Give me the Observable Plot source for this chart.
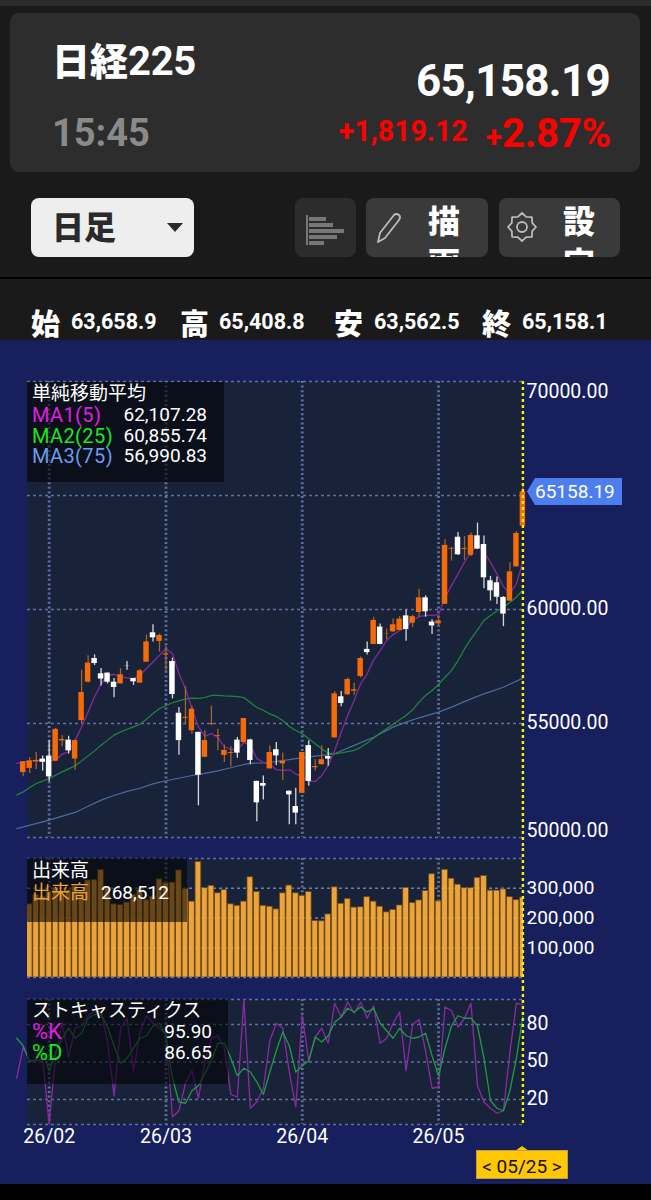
<!DOCTYPE html>
<html lang="ja">
<head>
<meta charset="utf-8">
<script src="https://cdn.jsdelivr.net/npm/d3@7"></script>
<script src="https://cdn.jsdelivr.net/npm/@observablehq/plot@0.6"></script>
<style>
html,body{margin:0;padding:0;background:#000;}
body{width:651px;height:1200px;overflow:hidden;position:relative;font-family:Roboto,"Noto Sans CJK JP",sans-serif;color:#fff;}
.a{position:absolute;white-space:nowrap;}
.cjk{font-family:"Noto Sans CJK JP",sans-serif;font-weight:900;}
.num{font-family:Roboto,sans-serif;font-weight:700;}
.chart{position:absolute;left:0;}
.chart svg{display:block;}
.box{position:absolute;background:rgba(0,0,0,.56);z-index:5;}
.t{position:absolute;white-space:nowrap;font-family:Roboto,"Noto Sans CJK JP",sans-serif;font-size:19px;line-height:20px;z-index:6;}
.btn{position:absolute;top:198px;height:59px;border-radius:8px;overflow:hidden;}
</style>
</head>
<body>
<div class="a" style="left:0;top:0;width:651px;height:340px;background:#1a1a1a"></div>
<div class="a" style="left:0;top:0;width:651px;height:6px;background:#2b2b2b"></div>
<div class="a" style="left:10px;top:13px;width:630px;height:159px;background:#2d2d2d;border-radius:9px"></div>
<div class="a cjk" style="left:52px;top:32px;font-size:38px;line-height:54px">日経<span class="num" style="font-size:40px;letter-spacing:-.3px">225</span></div>
<div class="a num" style="right:41px;top:54px;font-size:44px;line-height:54px;letter-spacing:-.7px">65,158.19</div>
<div class="a num" style="left:52px;top:110px;font-size:38px;line-height:46px;color:#8a8a8a">15:45</div>
<div class="a num" style="right:183px;top:113px;font-size:30px;line-height:36px;color:#f00;transform:scaleX(.95);transform-origin:right center">+1,819.12</div>
<div class="a num" style="right:40px;top:111px;font-size:40px;line-height:46px;color:#f00;letter-spacing:-.2px"><span style="font-size:30px">+</span>2.87%</div>

<div class="btn" style="left:31px;width:163px;background:#eee">
  <div class="a cjk" style="left:21px;top:4px;font-size:32px;line-height:46px;color:#2a2a2a;font-weight:900">日足</div>
  <div class="a" style="left:136px;top:25px;width:0;height:0;border-left:8px solid transparent;border-right:8px solid transparent;border-top:9px solid #2a2a2a"></div>
</div>
<div class="btn" style="left:295px;width:61px;background:#2c2c2c">
  <div class="a" style="left:11px;top:17px;width:2px;height:30px;background:#777"></div>
  <div class="a" style="left:14px;top:19px;width:17px;height:4px;background:#777"></div>
  <div class="a" style="left:14px;top:25px;width:24px;height:4px;background:#777"></div>
  <div class="a" style="left:14px;top:31px;width:35px;height:4px;background:#777"></div>
  <div class="a" style="left:14px;top:37px;width:28px;height:4px;background:#777"></div>
  <div class="a" style="left:14px;top:43px;width:15px;height:4px;background:#777"></div>
</div>
<div class="btn" style="left:366px;width:122px;background:#3a3a3a">
  <svg class="a" style="left:9px;top:13px" width="28" height="34" viewBox="0 0 28 34"><path d="M3 31L5 22L19 4Q21 2 24 4Q26 6 24 9L10 27Z" fill="none" stroke="#bbb" stroke-width="1.8" stroke-linejoin="round"/></svg>
  <div class="a cjk" style="left:62px;top:0;width:36px;font-size:32px;line-height:42px;white-space:normal;color:#fff;font-weight:900">描画</div>
</div>
<div class="btn" style="left:499px;width:121px;background:#3a3a3a">
  <svg class="a" style="left:8px;top:14px" width="30" height="30" viewBox="0 0 30 30"><polygon points="29,15 25.2,10.8 24.9,5.1 19.2,4.8 15,1 10.8,4.8 5.1,5.1 4.8,10.8 1,15 4.8,19.2 5.1,24.9 10.8,25.2 15,29 19.2,25.2 24.9,24.9 25.2,19.2" fill="none" stroke="#bbb" stroke-width="1.8" stroke-linejoin="round"/><circle cx="15" cy="15" r="5" fill="none" stroke="#bbb" stroke-width="1.8"/></svg>
  <div class="a cjk" style="left:64px;top:0;width:36px;font-size:32px;line-height:42px;white-space:normal;color:#fff;font-weight:900">設定</div>
</div>
<div class="a" style="left:0;top:277px;width:651px;height:2px;background:#000"></div>

<div class="a cjk" style="left:31px;top:301px;font-size:29px;line-height:42px">始</div>
<div class="a num" style="left:71px;top:309px;font-size:21.5px;line-height:26px">63,658.9</div>
<div class="a cjk" style="left:180px;top:301px;font-size:29px;line-height:42px">高</div>
<div class="a num" style="left:219px;top:309px;font-size:21.5px;line-height:26px">65,408.8</div>
<div class="a cjk" style="left:334px;top:301px;font-size:29px;line-height:42px">安</div>
<div class="a num" style="left:374px;top:309px;font-size:21.5px;line-height:26px">63,562.5</div>
<div class="a cjk" style="left:482px;top:301px;font-size:29px;line-height:42px">終</div>
<div class="a num" style="left:522px;top:309px;font-size:21.5px;line-height:26px">65,158.1</div>

<div class="a" style="left:0;top:340px;width:651px;height:844px;background:#171f5c"></div>
<div id="price" class="chart" style="top:340px"></div>
<div id="volume" class="chart" style="top:848px"></div>
<div id="stoch" class="chart" style="top:988px"></div>

<div class="box" style="left:27px;top:382px;width:197px;height:100px"></div>
<div class="t" style="left:32px;top:384px">単純移動平均</div>
<div class="t" style="left:32px;top:405px;font-size:20px;color:#e21ee2;letter-spacing:.4px">MA1(5)</div>
<div class="t" style="right:444px;top:405px">62,107.28</div>
<div class="t" style="left:32px;top:426px;font-size:20px;color:#1ee61e;letter-spacing:.4px">MA2(25)</div>
<div class="t" style="right:444px;top:426px">60,855.74</div>
<div class="t" style="left:32px;top:446px;font-size:20px;color:#6a9cf0;letter-spacing:.4px">MA3(75)</div>
<div class="t" style="right:444px;top:446px">56,990.83</div>

<div class="box" style="left:27px;top:858px;width:160px;height:64px"></div>
<div class="t" style="left:32px;top:861px">出来高</div>
<div class="t" style="left:32px;top:883px;color:#e8a23a">出来高</div>
<div class="t" style="left:101px;top:883px">268,512</div>

<div class="box" style="left:27px;top:999px;width:201px;height:85px"></div>
<div class="t" style="left:32px;top:1001px">ストキャスティクス</div>
<div class="t" style="left:32px;top:1022px;font-size:22px;color:#e21ee2">%K</div>
<div class="t" style="right:439px;top:1022px">95.90</div>
<div class="t" style="left:32px;top:1043px;font-size:22px;color:#1ee61e">%D</div>
<div class="t" style="right:439px;top:1043px">86.65</div>

<div class="a" style="left:527px;top:478px;width:95px;height:27px;background:#4d7ef0;clip-path:polygon(8px 0,100% 0,100% 100%,8px 100%,0 50%);z-index:6"></div>
<div class="t" style="left:535px;top:482px;z-index:7">65158.19</div>

<div class="a" style="left:515px;top:1146px;width:0;height:0;border-left:7px solid transparent;border-right:7px solid transparent;border-bottom:5px solid #ffc800;z-index:6"></div>
<div class="a" style="left:476px;top:1150px;width:92px;height:29px;background:#ffc800;box-shadow:inset 0 0 0 1px #b9a050;z-index:6"></div>
<div class="t" style="left:476px;width:92px;text-align:center;top:1157px;color:#111;z-index:7">&lt; 05/25 &gt;</div>

<script>
// Daily candles (index 0..77); last index is 05/25
const opens = [52850,53030,53320,53440,53570,53350,54240,54270,53440,55130,
56810,57850,57180,57210,56810,56740,57530,56970,56770,57690,
58980,58600,58000,57720,55450,55230,54680,54610,53520,54970,
54440,53600,53680,54270,54170,54280,52460,52370,53010,53850,
53230,52030,51360,51940,54030,53060,53200,53550,54370,56170,
56260,56420,57060,58250,58470,59230,58910,59020,59080,59720,
59400,59870,60510,59450,59370,60230,62650,63170,62640,62380,
63230,62850,61260,61170,60530,60370,61870,63658.9];
const closes = [53320,53360,53380,53300,52660,54740,54300,53800,54250,56360,
57650,57630,56950,56810,56580,57140,57520,56830,57310,58580,
58760,58860,58040,56270,54250,55270,55630,52730,54250,55000,
54470,53820,53720,53700,55220,53380,51520,52250,53730,53580,
53350,51870,51070,53730,52460,53110,53410,53440,56300,55880,
56930,56480,57850,58110,59520,58470,58920,59330,59580,59120,
59690,60510,59900,59280,59500,62810,62680,62400,62680,63250,
62650,61390,60820,60540,59800,61650,63339,65158.19];
const highs = [53320,53510,53730,53580,54240,54780,54470,54440,54270,57340,
57970,58010,57410,57220,56970,57410,57720,56980,57370,58870,
59330,58920,58390,57870,55700,56610,55760,54620,54680,55760,
54750,54050,53980,54390,55220,54310,52470,52700,54010,54170,
53710,52040,52160,53730,54240,53410,54020,53900,56400,56400,
57000,56770,57920,58570,59660,59360,59140,59580,59690,59970,
59750,60890,60600,59550,59690,63060,62730,63380,63200,63350,
63790,63220,61450,61420,60560,62050,63410,65408.8];
const lows = [52660,52810,52980,52920,52440,53320,53980,53660,52950,55000,
56780,57540,56640,56730,56130,56730,57340,56670,56750,57680,
58580,58130,57270,56080,53610,54930,54530,51390,53510,54900,
53800,53290,53100,53480,54120,53190,50690,51640,53000,53160,
52500,50560,50560,51920,52250,52920,53170,53130,54360,55730,
56240,56230,57000,58000,58450,58450,58670,58990,59060,58610,
59200,59660,59660,58900,59280,60220,62120,62370,62150,62320,
62630,60910,60370,60220,59250,60350,61860,63562.5];
// Moving averages, starting one session before the first candle
const ma1 = [53250,53320,53350,53360,53360,53360,53390,53660,53760,54270,54850,55510,56170,56730,57120,57150,57050,57000,56970,57120,57410,57700,58000,58270,58070,57190,56540,55660,54850,54440,54560,54390,53980,53860,53860,54170,54050,53460,53300,53230,52970,52940,52970,52790,52650,52460,52460,52720,53160,53820,54620,55350,56010,56740,57180,57790,58200,58640,58900,59080,59230,59520,59690,59740,59740,59770,60540,61050,61560,62080,62510,62880,62510,62080,61560,61010,60690,61130,62107.28];
const ma2 = [51860,52000,52190,52370,52470,52590,52730,52880,53010,53140,53360,53580,53800,54050,54270,54490,54630,54750,54850,54970,55190,55440,55660,55790,55910,55990,56070,56110,56100,56140,56230,56230,56210,56200,56180,56140,55920,55700,55580,55420,55310,55130,54870,54690,54550,54330,54110,53890,53700,53670,53710,53770,53820,53960,54140,54360,54580,54770,54960,55160,55350,55600,55940,56230,56450,56710,57030,57320,57760,58270,58710,59110,59520,59740,59930,60100,60320,60540,60855.74];
const ma3Index = [-1,4,8,10,12,14,16,18,20,22,24,26,28,30,32,34,35,37,38,42,46,48,51,54,57,59,61,64,66,69,71,74,77];
const ma3 = [50390,50760,51100,51370,51640,51840,52020,52160,52350,52490,52600,52720,52810,52920,53060,53200,53250,53270,53290,53460,53600,53670,54040,54400,54840,55060,55250,55500,55720,56080,56300,56590,56990.83];
// Volume per session
const volumes = [240000,246000,278000,272000,289000,300000,278000,294000,306000,289000,
326000,328000,362000,300000,246000,244000,252000,278000,294000,261000,
272000,330000,317000,319000,360000,297000,255000,388000,300000,308000,
283000,294000,246000,241000,255000,337000,287000,241000,238000,229000,
283000,309000,283000,274000,287000,190000,189000,212000,303000,248000,
264000,235000,236000,270000,255000,238000,219000,227000,242000,301000,
250000,259000,291000,347000,256000,362000,332000,312000,300000,300000,
335000,341000,292000,292000,296000,270000,260000,268512];
// Stochastics, starting one session before the first candle
const pctK = [37,62,51,51,52,0.5,55,82,54,77,79,87,91,90,66,23,77,85,43,74,87,81,77,72,6,11,33,43,21,50,69,71,61,24,22,100,13,18,29,67,81,77,42,14,87,51,70,77,65,97,86,98,89,98,85,95,65,69,81,90,43,80,84,59,29,30,94,91,78,85,97,31,18,13,9,11,58,97,95.9];
const pctD = [69,63,50,52,59,43,58,69,77,69,73,85,88,88,78,63,49,53,61,69,71,79,81,71,37,18,17,27,31,41,51,65,65,53,39,45,42,34,24,42,59,74,63,42,47,51,70,66,71,82,86,93,90,94,90,93,81,75,69,77,71,69,70,73,55,39,61,79,87,85,85,79,53,19,13,11,27,53,86.65];
// Axis ticks
const monthIndex = [4,22,43,64];
const monthLabels = ["26/02","26/03","26/04","26/05"];
const priceGrid = [50000,55000,60000,65000,70000];
const volumeGrid = [0,100000,200000,300000,400000];
const stochGrid = [0,20,50,80,100];

const PANEL="#18233a", GRID="#5f6f9e", FONT="Roboto,'Noto Sans CJK JP',sans-serif";
const UP="#f76a08", DOWN="#ffffff", UPW="#a5632c", DOWNW="#d4d8de";
const xDomain=[0.6626,77.09], sessions=d3.range(opens.length);
const last=[77];
const hGrid=t=>Plot.ruleY(t,{stroke:GRID,strokeWidth:1.6,strokeDasharray:"3,3"});
const vGrid=()=>Plot.ruleX(monthIndex,{stroke:GRID,strokeWidth:2.8,strokeDasharray:"2,2.6"});
const cursor=(y1,y2)=>Plot.ruleX(last,{y1:()=>y1,y2:()=>y2,stroke:"#f4f400",strokeWidth:2.4,strokeDasharray:"3,3"});
const label=(ticks,fmt,size,dy)=>Plot.axisY({anchor:"right",ticks,tickSize:0,tickPadding:3,tickFormat:fmt,fontSize:size,fill:"#fff",label:null,dy});
const base=(height,marginTop,marginBottom)=>({width:651,height,marginTop,marginBottom,marginLeft:27,marginRight:128,
  style:{background:"transparent",fontFamily:FONT,overflow:"visible"},
  x:{type:"linear",domain:xDomain,axis:null}});

const px=d=>d.toFixed(2);
document.getElementById("price").append(Plot.plot({...base(508,41,11),
  y:{domain:[50000,70000],axis:null},
  color:{type:"identity"},
  marks:[
    Plot.frame({fill:PANEL,stroke:null}),
    hGrid(priceGrid),vGrid(),
    Plot.line(ma3,{x:(d,i)=>ma3Index[i],y:d=>d,stroke:"#4c6a9c",strokeWidth:1.2}),
    Plot.line(ma2,{x:(d,i)=>i-1,y:d=>d,stroke:"#20883c",strokeWidth:1.2}),
    Plot.line(ma1,{x:(d,i)=>i-1,y:d=>d,stroke:"#86299a",strokeWidth:1.3}),
    Plot.ruleX(sessions,{x:i=>i,y1:i=>lows[i],y2:i=>highs[i],stroke:i=>closes[i]>=opens[i]?UPW:DOWNW,strokeWidth:1.3}),
    Plot.rect(sessions,{x1:i=>i-0.42,x2:i=>i+0.42,y1:i=>opens[i],y2:i=>closes[i],fill:i=>closes[i]>=opens[i]?UP:DOWN}),
    cursor(70000,49500),
    label([70000],px,19.5,10),
    label([60000,55000],px,19.5,-1),
    label([50000],px,19.5,-7)
  ]}));

document.getElementById("volume").append(Plot.plot({...base(140,10,11),
  y:{domain:[0,400000],axis:null},
  marks:[
    Plot.frame({fill:PANEL,stroke:null}),
    hGrid(volumeGrid),vGrid(),
    Plot.rectY(volumes,{x1:(d,i)=>i-0.44,x2:(d,i)=>i+0.44,y1:0,y2:d=>d,fill:"#eba33c",stroke:"#6e4a12",strokeWidth:.8,clip:true}),
    Plot.ruleY(volumeGrid.slice(1,4),{stroke:"#fff",strokeOpacity:.1,strokeWidth:1.6,strokeDasharray:"3,3"}),
    cursor(434000,-37000),
    label([300000,200000,100000],d3.format(","),19,0)
  ]}));

document.getElementById("stoch").append(Plot.plot({...base(196,11,60),
  y:{domain:[0,100],axis:null},
  marks:[
    Plot.frame({fill:PANEL,stroke:null}),
    hGrid(stochGrid),vGrid(),
    Plot.line(pctK,{x:(d,i)=>i-1,y:d=>d,stroke:"#8c2aa4",strokeWidth:1.3}),
    Plot.line(pctD,{x:(d,i)=>i-1,y:d=>d,stroke:"#1f9a45",strokeWidth:1.3}),
    cursor(108.8,0),
    label([80,50,20],d=>String(d),19.5,-1),
    Plot.axisX({anchor:"bottom",ticks:monthIndex,tickSize:0,tickPadding:5,fontSize:19.5,fill:"#fff",label:null,
      tickFormat:d=>monthLabels[monthIndex.indexOf(d)]})
  ]}));
</script>
</body>
</html>
